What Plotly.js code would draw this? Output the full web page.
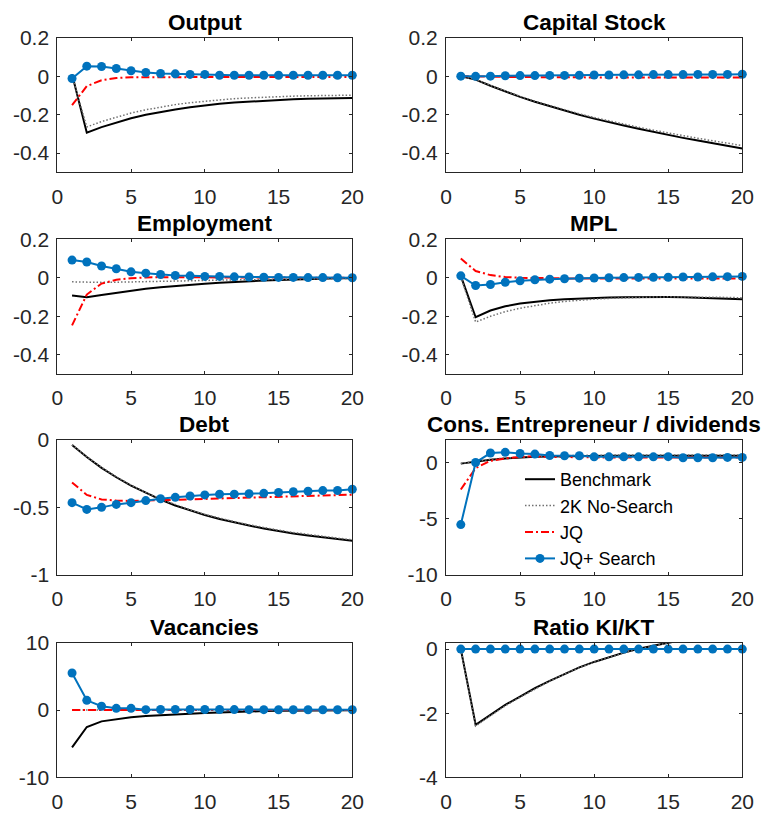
<!DOCTYPE html>
<html>
<head>
<meta charset="utf-8">
<script src="https://cdn.plot.ly/plotly-3.0.1.min.js"></script>
<style>html,body{margin:0;padding:0;background:#fff;}#chart{width:775px;height:813px;}</style>
</head>
<body>
<div id="chart"></div>
<script>
const periods = [1,2,3,4,5,6,7,8,9,10,11,12,13,14,15,16,17,18,19,20];
const seriesNames = ["Benchmark", "2K No-Search", "JQ", "JQ+ Search"];
const panelTitles = ["Output", "Capital Stock", "Employment", "MPL", "Debt", "Cons. Entrepreneur / dividends", "Vacancies", "Ratio KI/KT"];

// Output
const outputBench = [0.01,-0.294,-0.265,-0.240,-0.219,-0.201,-0.186,-0.173,-0.162,-0.152,-0.144,-0.137,-0.132,-0.127,-0.123,-0.120,-0.118,-0.116,-0.114,-0.113];
const outputNoSearch = [0.0,-0.264,-0.236,-0.212,-0.192,-0.175,-0.160,-0.148,-0.138,-0.130,-0.123,-0.117,-0.113,-0.109,-0.106,-0.104,-0.102,-0.101,-0.100,-0.099];
const outputJQ = [-0.151,-0.052,-0.021,-0.010,-0.006,-0.005,-0.005,-0.005,-0.005,-0.005,-0.005,-0.005,-0.005,-0.005,-0.005,-0.005,-0.005,-0.005,-0.005,-0.005];
const outputJQS = [-0.012,0.052,0.050,0.040,0.028,0.019,0.014,0.012,0.009,0.009,0.005,0.005,0.005,0.005,0.005,0.005,0.005,0.005,0.005,0.005];
// Capital Stock
const capitalBench = [0,-0.018,-0.050,-0.081,-0.108,-0.133,-0.157,-0.180,-0.201,-0.221,-0.240,-0.257,-0.274,-0.291,-0.306,-0.321,-0.335,-0.349,-0.363,-0.376];
const capitalNoSearch = [0,-0.017,-0.048,-0.078,-0.105,-0.130,-0.153,-0.175,-0.196,-0.215,-0.233,-0.250,-0.266,-0.281,-0.296,-0.310,-0.323,-0.336,-0.349,-0.361];
const capitalJQ = [0,-0.002,-0.003,-0.004,-0.005,-0.005,-0.006,-0.006,-0.006,-0.006,-0.007,-0.007,-0.007,-0.007,-0.007,-0.007,-0.007,-0.007,-0.007,-0.007];
const capitalJQS = [0,-0.001,0,0.002,0.003,0.003,0.004,0.004,0.005,0.006,0.006,0.007,0.007,0.008,0.008,0.008,0.009,0.009,0.009,0.010];
// Employment
const employBench = [-0.092,-0.101,-0.090,-0.078,-0.067,-0.057,-0.049,-0.042,-0.036,-0.031,-0.026,-0.021,-0.017,-0.014,-0.011,-0.008,-0.006,-0.004,-0.003,-0.002];
const employNoSearch = [-0.021,-0.024,-0.024,-0.023,-0.022,-0.021,-0.019,-0.018,-0.016,-0.014,-0.012,-0.011,-0.009,-0.008,-0.007,-0.006,-0.005,-0.004,-0.003,-0.003];
const employJQ = [-0.247,-0.087,-0.030,-0.010,-0.003,0.002,0.003,0.003,0.002,0.002,0.002,0.001,0.001,0.001,0.001,0,0,0,0,0];
const employJQS = [0.092,0.082,0.061,0.047,0.031,0.024,0.017,0.012,0.010,0.007,0.007,0.005,0.004,0.003,0.002,0.002,0.001,0.001,0.0,0.0];
// MPL
const mplBench = [0.010,-0.205,-0.170,-0.148,-0.134,-0.124,-0.117,-0.112,-0.108,-0.104,-0.102,-0.101,-0.100,-0.100,-0.100,-0.101,-0.103,-0.105,-0.108,-0.111];
const mplNoSearch = [0.005,-0.230,-0.200,-0.176,-0.158,-0.144,-0.132,-0.123,-0.116,-0.111,-0.107,-0.104,-0.101,-0.100,-0.099,-0.099,-0.100,-0.101,-0.102,-0.104];
const mplJQ = [0.100,0.035,0.014,0.004,0.000,-0.002,-0.003,-0.004,-0.004,-0.004,-0.004,-0.004,-0.004,-0.004,-0.004,-0.004,-0.004,-0.004,-0.004,-0.004];
const mplJQS = [0.010,-0.040,-0.035,-0.023,-0.016,-0.010,-0.007,-0.005,-0.002,-0.001,0.0,0.001,0.002,0.003,0.003,0.004,0.004,0.005,0.006,0.007];
// Debt
const debtBench = [-0.037,-0.126,-0.206,-0.276,-0.338,-0.393,-0.442,-0.485,-0.523,-0.556,-0.585,-0.611,-0.634,-0.655,-0.675,-0.692,-0.707,-0.721,-0.734,-0.746];
const debtNoSearch = [-0.035,-0.124,-0.203,-0.273,-0.334,-0.389,-0.437,-0.480,-0.518,-0.551,-0.580,-0.605,-0.628,-0.649,-0.668,-0.685,-0.700,-0.714,-0.727,-0.739];
const debtJQ = [-0.314,-0.407,-0.440,-0.449,-0.452,-0.449,-0.444,-0.442,-0.438,-0.435,-0.432,-0.429,-0.426,-0.423,-0.420,-0.417,-0.414,-0.411,-0.408,-0.405];
const debtJQS = [-0.464,-0.514,-0.499,-0.477,-0.464,-0.449,-0.435,-0.425,-0.415,-0.407,-0.402,-0.401,-0.398,-0.395,-0.388,-0.383,-0.380,-0.375,-0.374,-0.365];
// Cons. Entrepreneur / dividends
const consBench = [-0.10,0.09,0.24,0.36,0.45,0.50,0.54,0.57,0.59,0.60,0.61,0.61,0.61,0.61,0.61,0.61,0.61,0.61,0.61,0.61];
const consNoSearch = [-0.08,0.12,0.28,0.40,0.49,0.55,0.59,0.62,0.64,0.65,0.66,0.66,0.66,0.66,0.66,0.66,0.66,0.66,0.66,0.66];
const consJQ = [-2.40,-0.50,0.15,0.36,0.50,0.55,0.50,0.47,0.45,0.45,0.44,0.44,0.44,0.44,0.44,0.44,0.44,0.44,0.44,0.44];
const consJQS = [-5.52,0.0,0.84,0.90,0.80,0.75,0.62,0.60,0.60,0.50,0.50,0.50,0.50,0.50,0.52,0.42,0.42,0.42,0.45,0.45];
// Vacancies
const vacBench = [-5.56,-2.53,-1.69,-1.34,-1.09,-0.90,-0.75,-0.65,-0.55,-0.45,-0.36,-0.30,-0.22,-0.16,-0.12,-0.09,-0.07,-0.05,-0.04,-0.03];
const vacNoSearch = [0,0,0,0,0,0,0,0,0,0,0,0,0,0,0,0,0,0,0,0];
const vacJQ = [0,0,0,0,0,0,0,0,0,0,0,0,0,0,0,0,0,0,0,0];
const vacJQS = [5.50,1.44,0.55,0.25,0.25,0.05,0.08,0.08,0.08,0.08,0.08,0.06,0.05,0.05,0.04,0.04,0.04,0.04,0.04,0.04];
// Ratio KI/KT
const ratioBench = [0,-2.36,-2.05,-1.74,-1.48,-1.22,-0.99,-0.77,-0.57,-0.40,-0.25,-0.11,0.01,0.11,0.20,0.28,0.35,0.41,0.46,0.50];
const ratioNoSearch = [0,-2.40,-2.08,-1.77,-1.50,-1.24,-1.00,-0.78,-0.58,-0.41,-0.26,-0.12,0.00,0.10,0.19,0.27,0.34,0.40,0.45,0.49];
const ratioJQ = [0,0,0,0,0,0,0,0,0,0,0,0,0,0,0,0,0,0,0,0];
const ratioJQS = [0,0,0,0,0,0,0,0,0,0,0,0,0,0,0,0,0,0,0,0];

// y-axis ranges and tick labels per panel
const yRanges = [[-0.5,0.2],[-0.5,0.2],[-0.5,0.2],[-0.5,0.2],[-1,0],[-10,2],[-10,10],[-4,0.2]];
const yTickVals = [[-0.4,-0.2,0,0.2],[-0.4,-0.2,0,0.2],[-0.4,-0.2,0,0.2],[-0.4,-0.2,0,0.2],[-1,-0.5,0],[-10,-5,0],[-10,0,10],[-4,-2,0]];
const yTickText = [["-0.4","-0.2","0","0.2"],["-0.4","-0.2","0","0.2"],["-0.4","-0.2","0","0.2"],["-0.4","-0.2","0","0.2"],["-1","-0.5","0"],["-10","-5","0"],["-10","0","10"],["-4","-2","0"]];
const xTickVals = [0,5,10,15,20];
const xTickText = ["0","5","10","15","20"];

const panelData = [
  [outputBench, outputNoSearch, outputJQ, outputJQS],
  [capitalBench, capitalNoSearch, capitalJQ, capitalJQS],
  [employBench, employNoSearch, employJQ, employJQS],
  [mplBench, mplNoSearch, mplJQ, mplJQS],
  [debtBench, debtNoSearch, debtJQ, debtJQS],
  [consBench, consNoSearch, consJQ, consJQS],
  [vacBench, vacNoSearch, vacJQ, vacJQS],
  [ratioBench, ratioNoSearch, ratioJQ, ratioJQS]
];

const W = 775, H = 813;
const colX = [[57.3, 352.3], [446, 742.3]];
const rowY = [[37.7, 172.3], [239.3, 374], [440, 575], [642.7, 777.3]];

const FONT = "Liberation Sans, Arial, Helvetica, sans-serif";
const AX = "#262626";

const styles = [
  {line: {color: "#000000", width: 2, dash: "solid"}, mode: "lines"},
  {line: {color: "#707070", width: 1.5, dash: "1.5px,2px"}, mode: "lines"},
  {line: {color: "#ff0000", width: 2, dash: "8px,3px,2px,3px"}, mode: "lines"},
  {line: {color: "#0072bd", width: 2}, mode: "lines+markers", marker: {color: "#0072bd", size: 9}}
];

const traces = [];
const layout = {
  width: W, height: H,
  margin: {l: 0, r: 0, t: 0, b: 0},
  paper_bgcolor: "#ffffff", plot_bgcolor: "#ffffff",
  font: {family: FONT, color: AX, size: 21},
  showlegend: true,
  legend: {
    x: 520 / W, y: 1 - 461 / H, xanchor: "left", yanchor: "top",
    bgcolor: "rgba(0,0,0,0)", borderwidth: 0,
    font: {family: FONT, size: 18, color: "#000000"},
    itemwidth: 30, tracegroupgap: 0
  },
  annotations: []
};

for (let p = 0; p < 8; p++) {
  const col = p % 2, row = Math.floor(p / 2);
  const xs = p === 0 ? "" : String(p + 1);
  const xd = [colX[col][0] / W, colX[col][1] / W];
  const yd = [1 - rowY[row][1] / H, 1 - rowY[row][0] / H];
  layout["xaxis" + xs] = {
    domain: xd, range: [0, 20], anchor: "y" + xs,
    tickvals: xTickVals, ticktext: xTickText,
    ticks: "inside", ticklen: 3, tickwidth: 1, tickcolor: AX,
    showline: true, linecolor: AX, linewidth: 1, mirror: "ticks",
    showgrid: false, zeroline: false,
    tickfont: {family: FONT, size: 21, color: AX},
    ticklabelstandoff: 5, fixedrange: true
  };
  layout["yaxis" + xs] = {
    domain: yd, range: yRanges[p], anchor: "x" + xs,
    tickvals: yTickVals[p], ticktext: yTickText[p],
    ticks: "inside", ticklen: 3, tickwidth: 1, tickcolor: AX,
    showline: true, linecolor: AX, linewidth: 1, mirror: "ticks",
    showgrid: false, zeroline: false,
    tickfont: {family: FONT, size: 21, color: AX},
    ticklabelstandoff: 3, fixedrange: true
  };
  layout.annotations.push({
    text: "<b>" + panelTitles[p] + "</b>",
    xref: "paper", yref: "paper",
    x: (xd[0] + xd[1]) / 2, y: yd[1],
    xanchor: "center", yanchor: "bottom", yshift: 1,
    showarrow: false,
    font: {family: FONT, size: 22.5, color: "#000000"}
  });
  for (let s = 0; s < 4; s++) {
    const st = styles[s];
    const tr = {
      type: "scatter", x: periods, y: panelData[p][s],
      xaxis: "x" + xs, yaxis: "y" + xs,
      name: seriesNames[s], mode: st.mode,
      line: st.line, showlegend: p === 0, hoverinfo: "skip"
    };
    if (st.marker) { tr.marker = st.marker; tr.cliponaxis = false; }
    traces.push(tr);
  }
}

Plotly.newPlot("chart", traces, layout, {staticPlot: true, displayModeBar: false});
</script>
</body>
</html>
